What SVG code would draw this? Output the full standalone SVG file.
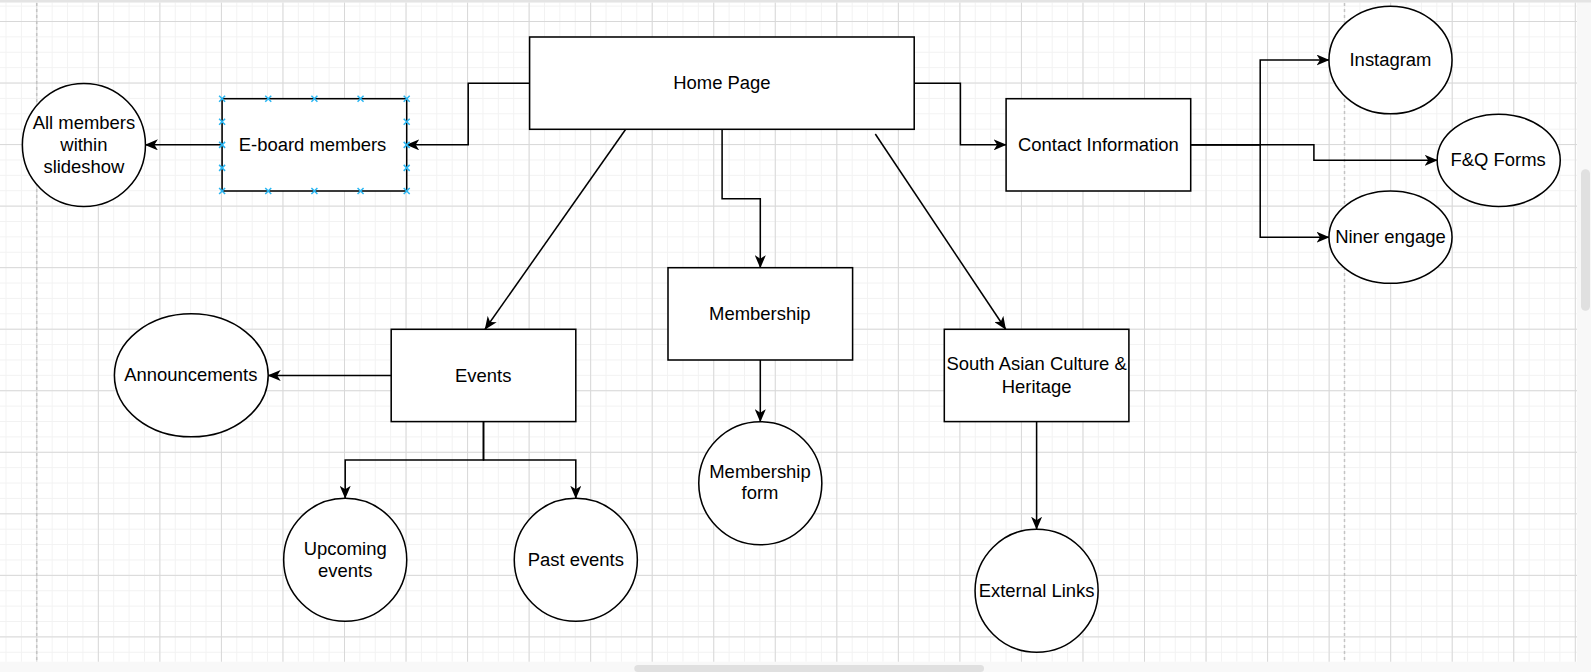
<svg xmlns="http://www.w3.org/2000/svg" xmlns:xlink="http://www.w3.org/1999/xlink" width="1591" height="672" viewBox="0 0 1591 672">
<style>
.node{fill:#fff;stroke:#000;stroke-width:1.54}
.edge{fill:none;stroke:#000;stroke-width:1.54;marker-end:url(#arrow)}
.lbl{font-family:"Liberation Sans",Arial,Helvetica,sans-serif;font-size:18.46px;fill:#000;text-anchor:middle}
.pt{fill:none;stroke:#29b6f2;stroke-width:1.5}
.page{stroke:#c4c4c4;stroke-width:1.5;stroke-dasharray:3 3;fill:none}
.sb{fill:#e0e0e0}
</style>
<defs>
<pattern id="minor" patternUnits="userSpaceOnUse" x="36.3" y="21" width="15.385" height="15.385">
<rect x="0" y="0" width="1" height="15.385" fill="#f2f2f2"/>
<rect x="0" y="0" width="15.385" height="1" fill="#f2f2f2"/>
</pattern>
<pattern id="major" patternUnits="userSpaceOnUse" x="36.3" y="21" width="61.54" height="61.54">
<rect x="0" y="0" width="1" height="61.54" fill="#d8d8d8"/>
<rect x="0" y="0" width="61.54" height="1" fill="#d8d8d8"/>
</pattern>
<marker id="arrow" markerUnits="userSpaceOnUse" viewBox="0 0 13 11" markerWidth="13" markerHeight="11" refX="12.5" refY="5.5" orient="auto">
<path d="M0,0 L13,5.5 L0,11 L3.5,5.5 Z" fill="#000"/>
</marker>
<path id="cp" class="pt" d="M-3,-3 L3,3 M-3,3 L3,-3"/>
</defs>

<g id="canvas">
<rect x="0" y="0" width="1591" height="672" fill="#f8f8f8"/>
<rect x="0" y="2.5" width="1577" height="659.2" fill="#ffffff"/>
<rect x="0" y="2.5" width="1577" height="659.2" fill="url(#minor)"/>
<rect x="0" y="2.5" width="1577" height="659.2" fill="url(#major)"/>
<rect x="0" y="0" width="1591" height="2.5" fill="#e4e4e4"/>
<line class="page" x1="36.7" y1="3" x2="36.7" y2="661.7"/>
<line class="page" x1="1344.5" y1="3" x2="1344.5" y2="661.7"/>
<rect class="sb" x="634.3" y="665" width="349.7" height="7" rx="3.5"/>
<rect class="sb" x="1581" y="169.3" width="9" height="141.4" rx="4.5"/>
</g>

<g id="connectors">
<path class="edge" d="M529.6,83.2 H468.2 V144.85 H406.7"/>
<path class="edge" d="M222.1,144.85 H145.4"/>
<path class="edge" d="M914.2,83.2 H960.4 V144.85 H1006.1"/>
<path class="edge" d="M1190.7,144.85 H1260.2 V60 H1329"/>
<path class="edge" d="M1190.7,144.85 H1313.9 V160.3 H1437.2"/>
<path class="edge" d="M1190.7,144.85 H1260.2 V237.2 H1329"/>
<path class="edge" d="M625.7,129.3 L485,329.3"/>
<path class="edge" d="M722.1,129.3 V198.7 H760.3 V267.7"/>
<path class="edge" d="M875.3,134 L1005.7,329.3"/>
<path class="edge" d="M391.2,375.5 H268.2"/>
<path class="edge" d="M483.5,421.6 V460 H345.2 V498.3"/>
<path class="edge" d="M483.5,421.6 V460 H575.8 V498.3"/>
<path class="edge" d="M760.3,360 V421.7"/>
<path class="edge" d="M1036.6,421.6 V529.2"/>
</g>

<g id="home-page">
<rect class="node" x="529.6" y="37" width="384.6" height="92.3"/>
<text class="lbl" x="721.9" y="89.2">Home Page</text>
</g>

<g id="e-board-members">
<rect class="node" x="222.1" y="98.7" width="184.6" height="92.3"/>
<text class="lbl" x="312.5" y="151">E-board members</text>
<use xlink:href="#cp" x="222.1" y="98.7"/>
<use xlink:href="#cp" x="268.25" y="98.7"/>
<use xlink:href="#cp" x="314.4" y="98.7"/>
<use xlink:href="#cp" x="360.55" y="98.7"/>
<use xlink:href="#cp" x="406.7" y="98.7"/>
<use xlink:href="#cp" x="222.1" y="191"/>
<use xlink:href="#cp" x="268.25" y="191"/>
<use xlink:href="#cp" x="314.4" y="191"/>
<use xlink:href="#cp" x="360.55" y="191"/>
<use xlink:href="#cp" x="406.7" y="191"/>
<use xlink:href="#cp" x="222.1" y="121.8"/>
<use xlink:href="#cp" x="222.1" y="144.85"/>
<use xlink:href="#cp" x="222.1" y="167.9"/>
<use xlink:href="#cp" x="406.7" y="121.8"/>
<use xlink:href="#cp" x="406.7" y="144.85"/>
<use xlink:href="#cp" x="406.7" y="167.9"/>
</g>

<g id="all-members">
<circle class="node" cx="83.9" cy="145" r="61.54"/>
<text class="lbl" x="83.9" y="129.3">All members</text>
<text class="lbl" x="83.9" y="151">within</text>
<text class="lbl" x="83.9" y="172.7">slideshow</text>
</g>

<g id="contact-information">
<rect class="node" x="1006.1" y="98.7" width="184.6" height="92.3"/>
<text class="lbl" x="1098.4" y="151">Contact Information</text>
</g>

<g id="instagram">
<ellipse class="node" cx="1390.5" cy="60" rx="61.54" ry="53.85"/>
<text class="lbl" x="1390.5" y="66">Instagram</text>
</g>

<g id="fq-forms">
<ellipse class="node" cx="1498.7" cy="160.3" rx="61.54" ry="46.15"/>
<text class="lbl" x="1498.2" y="166.3">F&amp;Q Forms</text>
</g>

<g id="niner-engage">
<ellipse class="node" cx="1390.5" cy="237.2" rx="61.54" ry="46.15"/>
<text class="lbl" x="1390.5" y="243.2">Niner engage</text>
</g>

<g id="events">
<rect class="node" x="391.2" y="329.3" width="184.6" height="92.3"/>
<text class="lbl" x="483.2" y="381.5">Events</text>
</g>

<g id="announcements">
<ellipse class="node" cx="191.3" cy="375.3" rx="76.9" ry="61.54"/>
<text class="lbl" x="190.8" y="381.3">Announcements</text>
</g>

<g id="upcoming-events">
<circle class="node" cx="345.2" cy="559.8" r="61.54"/>
<text class="lbl" x="345.2" y="555.3">Upcoming</text>
<text class="lbl" x="345.2" y="576.8">events</text>
</g>

<g id="past-events">
<circle class="node" cx="575.8" cy="559.8" r="61.54"/>
<text class="lbl" x="575.8" y="565.8">Past events</text>
</g>

<g id="membership">
<rect class="node" x="668" y="267.7" width="184.6" height="92.3"/>
<text class="lbl" x="759.8" y="319.6">Membership</text>
</g>

<g id="membership-form">
<circle class="node" cx="760.3" cy="483.2" r="61.54"/>
<text class="lbl" x="760" y="477.7">Membership</text>
<text class="lbl" x="760" y="499.3">form</text>
</g>

<g id="south-asian-culture">
<rect class="node" x="944.3" y="329.3" width="184.6" height="92.3"/>
<text class="lbl" x="1036.6" y="370">South Asian Culture &amp;</text>
<text class="lbl" x="1036.6" y="392.7">Heritage</text>
</g>

<g id="external-links">
<circle class="node" cx="1036.6" cy="590.7" r="61.54"/>
<text class="lbl" x="1036.6" y="596.7">External Links</text>
</g>
</svg>
